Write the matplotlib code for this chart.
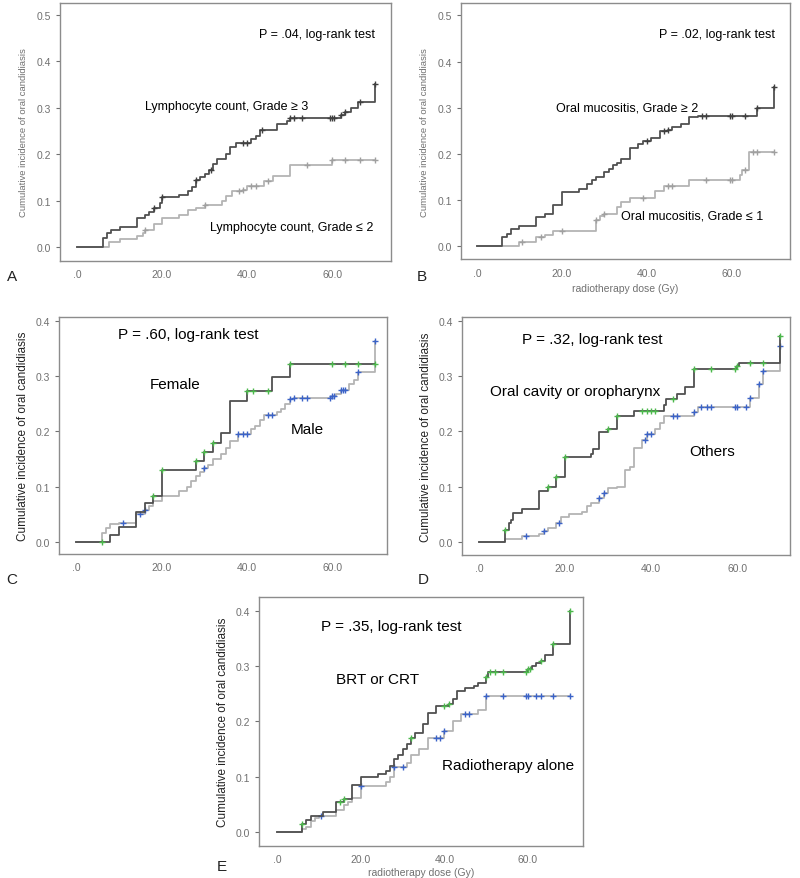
import matplotlib.pyplot as plt
import numpy as np

plt.rcParams['font.family'] = ['Liberation Sans', 'DejaVu Sans']

# ---- panel A: lymphocyte count ----
a_hi_t = [0, 6, 7, 8, 10, 14, 16, 17, 18, 19.5, 20, 24, 26, 27, 28, 29, 30, 31, 32, 33, 35, 36, 37.5, 41, 42, 43, 47, 49.5, 50, 62, 63, 64.5, 66, 70]
a_hi_y = [0, 0.02, 0.03, 0.037, 0.043, 0.063, 0.068, 0.075, 0.085, 0.095, 0.107, 0.112, 0.12, 0.13, 0.145, 0.15, 0.157, 0.165, 0.18, 0.19, 0.2, 0.215, 0.225, 0.233, 0.24, 0.253, 0.265, 0.272, 0.277, 0.285, 0.29, 0.3, 0.312, 0.352]
a_hi_c = [18, 20, 28, 31.5, 39, 40, 43.5, 50, 51, 53, 59.5, 60, 60.5, 62, 63, 66.5, 70]
a_lo_t = [0, 7.5, 10, 14, 15.5, 16, 18, 20, 24, 26, 28, 30, 34, 35, 36.5, 39, 40, 44, 46, 50, 60, 70]
a_lo_y = [0, 0.01, 0.018, 0.024, 0.03, 0.036, 0.05, 0.063, 0.07, 0.08, 0.085, 0.09, 0.1, 0.11, 0.12, 0.123, 0.132, 0.142, 0.154, 0.177, 0.188, 0.188]
a_lo_c = [16, 30, 38, 39, 41, 42, 45, 54, 60, 63, 66.5, 70]

# ---- panel B: oral mucositis ----
b_hi_t = [0, 6, 7, 8, 10, 14, 16, 18, 20, 24, 26, 27, 28, 30, 31, 32, 33, 34, 36, 38, 39, 41, 43, 45, 46, 48, 50, 52, 66, 70]
b_hi_y = [0, 0.02, 0.027, 0.037, 0.043, 0.063, 0.07, 0.09, 0.117, 0.125, 0.135, 0.143, 0.15, 0.16, 0.168, 0.175, 0.18, 0.19, 0.213, 0.222, 0.228, 0.235, 0.25, 0.252, 0.258, 0.265, 0.28, 0.283, 0.3, 0.345]
b_hi_c = [40, 44, 45, 53, 54, 59.5, 60, 63, 66, 70]
b_lo_t = [0, 10, 14, 16, 18, 28, 29, 30, 33, 34, 36, 42, 44, 50, 62, 62.5, 64, 70]
b_lo_y = [0, 0.01, 0.02, 0.024, 0.033, 0.057, 0.065, 0.07, 0.085, 0.095, 0.105, 0.12, 0.13, 0.143, 0.155, 0.165, 0.205, 0.205]
b_lo_c = [10.5, 15, 20, 28, 30, 39, 45, 46, 54, 59.5, 60, 63, 65, 66, 70]

# ---- panel C: sex ----
c_f_t = [0, 8, 10, 14, 16, 18, 20, 28, 30, 32, 34, 36, 40, 46, 50, 70]
c_f_y = [0, 0.013, 0.027, 0.055, 0.07, 0.083, 0.13, 0.147, 0.163, 0.18, 0.198, 0.255, 0.274, 0.298, 0.322, 0.322]
c_f_c = [6, 18, 20, 28, 30, 32, 40, 41.5, 45, 50, 60, 63, 66, 70]
c_m_t = [0, 6, 7, 8, 10, 14, 16, 17, 18, 20, 24, 26, 27, 28, 29, 30, 31, 32, 34, 35, 36, 38, 41, 42, 43, 44, 47, 48, 49, 50, 51, 60, 61, 62, 64, 65, 66, 70]
c_m_y = [0, 0.017, 0.025, 0.032, 0.035, 0.05, 0.058, 0.065, 0.075, 0.083, 0.093, 0.1, 0.11, 0.12, 0.127, 0.133, 0.14, 0.15, 0.16, 0.17, 0.183, 0.195, 0.205, 0.21, 0.22, 0.23, 0.235, 0.24, 0.25, 0.258, 0.26, 0.265, 0.268, 0.275, 0.285, 0.293, 0.308, 0.363]
c_m_c = [11, 15, 16, 30, 38, 39, 40, 45, 46, 50, 51, 53, 54, 59.5, 60, 60.5, 62, 62.5, 63, 66, 70]

# ---- panel D: tumour site ----
d_o_t = [0, 6, 7, 7.5, 8, 10, 14, 16, 18, 20, 26, 26.5, 28, 30, 32, 36, 43, 43.5, 46, 48, 50, 60, 60.5, 70]
d_o_y = [0, 0.022, 0.035, 0.04, 0.052, 0.06, 0.093, 0.1, 0.118, 0.153, 0.16, 0.168, 0.198, 0.205, 0.228, 0.237, 0.248, 0.258, 0.268, 0.28, 0.312, 0.318, 0.323, 0.372]
d_o_c = [6, 16, 18, 20, 30, 32, 38, 39, 40, 41, 45, 50, 54, 59.5, 60, 63, 66, 70]
d_x_t = [0, 6, 10, 14, 15, 16, 18, 19, 21, 24, 25, 26, 28, 29, 30, 32, 34, 35, 36, 38, 39, 41, 42, 43, 50, 51, 63, 65, 66, 70]
d_x_y = [0, 0.005, 0.01, 0.015, 0.02, 0.025, 0.035, 0.045, 0.05, 0.055, 0.065, 0.07, 0.08, 0.088, 0.097, 0.1, 0.13, 0.135, 0.17, 0.185, 0.195, 0.205, 0.215, 0.228, 0.235, 0.245, 0.26, 0.285, 0.31, 0.355]
d_x_c = [11, 15, 18.5, 28, 29, 38.5, 39, 40, 45, 46, 50, 51.5, 53, 54, 59.5, 60, 62, 63, 65, 66, 70]

# ---- panel E: treatment ----
e_b_t = [0, 6, 7, 8, 11, 14, 16, 18, 20, 24, 26, 27, 28, 29, 30, 31, 32, 33, 35, 36, 38, 41, 42, 43, 45, 47, 48, 50, 50.5, 60, 61, 62, 63, 64, 66, 70]
e_b_y = [0, 0.015, 0.022, 0.03, 0.037, 0.055, 0.06, 0.085, 0.1, 0.105, 0.11, 0.12, 0.133, 0.14, 0.15, 0.16, 0.17, 0.18, 0.195, 0.215, 0.228, 0.232, 0.24, 0.255, 0.26, 0.265, 0.27, 0.28, 0.29, 0.295, 0.3, 0.305, 0.31, 0.32, 0.34, 0.4]
e_b_c = [6, 15, 16, 32, 40, 41, 50, 51, 52, 54, 59.5, 60, 60.5, 63, 66, 70]
e_r_t = [0, 6, 7, 8, 9, 10, 14, 16, 17, 18, 20, 26, 27, 28, 31, 32, 34, 36, 40, 42, 44, 48, 50, 70]
e_r_y = [0, 0.005, 0.01, 0.02, 0.025, 0.03, 0.04, 0.05, 0.055, 0.062, 0.083, 0.09, 0.1, 0.117, 0.125, 0.14, 0.15, 0.17, 0.182, 0.2, 0.213, 0.22, 0.246, 0.246]
e_r_c = [10.5, 20, 28, 30, 38, 39, 40, 45, 46, 50, 54, 59.5, 60, 62, 63, 66, 70]

DARK = '#505050'
LIGHT = '#b4b4b4'
GREEN = '#4cb84c'
BLUE = '#3b63c8'
FRAME = '#8c8c8c'
TICK = '#707070'


def curve_value(t, y, c):
    # value of the step curve at each censoring time
    idx = np.searchsorted(t, c, side='right') - 1
    return np.array(y)[idx]


def km(ax, t, y, c, lc, mc):
    ax.step(t, y, where='post', color=lc, lw=1.3)
    ax.plot(c, curve_value(t, y, c), '+', color=mc, ms=4, mew=1.0, ls='none')


def setup(ax, xlim, ylim, yticks, big):
    ax.set_xlim(xlim)
    ax.set_ylim(ylim)
    ax.set_xticks([0, 20, 40, 60])
    ax.set_xticklabels(['.0', '20.0', '40.0', '60.0'])
    ax.set_yticks(yticks)
    ax.set_yticklabels(['%.1f' % v for v in yticks])
    for s in ax.spines.values():
        s.set_color(FRAME)
        s.set_linewidth(1.0)
    ax.tick_params(axis='both', colors=TICK, labelsize=7.5, length=3, width=0.8)
    ax.tick_params(axis='x', length=0, pad=6)
    if big:
        ax.set_ylabel('Cumulative incidence of oral candidiasis', fontsize=8.5, color='#222222', labelpad=5)
    else:
        ax.set_ylabel('Cumulative incidence of oral candidiasis', fontsize=6.8, color=TICK, labelpad=6)


fig = plt.figure(figsize=(8, 8.79), dpi=100)

TS = 9     # text size in A and B
TL = 11    # text size in C, D and E

axA = fig.add_axes([0.075, 0.702, 0.414, 0.2935])
km(axA, a_lo_t, a_lo_y, a_lo_c, LIGHT, '#a0a0a0')
km(axA, a_hi_t, a_hi_y, a_hi_c, DARK, '#404040')
setup(axA, (-4.0, 73.9), (-0.030, 0.526), [0.0, 0.1, 0.2, 0.3, 0.4, 0.5], False)
axA.text(56.5, 0.459, 'P = .04, log-rank test', ha='center', va='center', fontsize=TS)
axA.text(35.3, 0.304, 'Lymphocyte count, Grade \u2265 3', ha='center', va='center', fontsize=TS)
axA.text(50.6, 0.043, 'Lymphocyte count, Grade \u2264 2', ha='center', va='center', fontsize=TS)

axB = fig.add_axes([0.576, 0.704, 0.411, 0.291])
km(axB, b_lo_t, b_lo_y, b_lo_c, LIGHT, '#a0a0a0')
km(axB, b_hi_t, b_hi_y, b_hi_c, DARK, '#404040')
setup(axB, (-3.8, 73.6), (-0.028, 0.526), [0.0, 0.1, 0.2, 0.3, 0.4, 0.5], False)
axB.set_xlabel('radiotherapy dose (Gy)', fontsize=7.5, color=TICK, labelpad=4)
axB.text(56.5, 0.459, 'P = .02, log-rank test', ha='center', va='center', fontsize=TS)
axB.text(35.3, 0.300, 'Oral mucositis, Grade \u2265 2', ha='center', va='center', fontsize=TS)
axB.text(50.6, 0.067, 'Oral mucositis, Grade \u2264 1', ha='center', va='center', fontsize=TS)

axC = fig.add_axes([0.074, 0.3686, 0.41, 0.2696])
km(axC, c_m_t, c_m_y, c_m_c, LIGHT, BLUE)
km(axC, c_f_t, c_f_y, c_f_c, DARK, GREEN)
setup(axC, (-4.0, 72.9), (-0.0217, 0.407), [0.0, 0.1, 0.2, 0.3, 0.4], True)
axC.text(26.3, 0.376, 'P = .60, log-rank test', ha='center', va='center', fontsize=TL)
axC.text(23.2, 0.286, 'Female', ha='center', va='center', fontsize=TL)
axC.text(54.2, 0.204, 'Male', ha='center', va='center', fontsize=TL)

axD = fig.add_axes([0.5775, 0.3675, 0.41, 0.2708])
km(axD, d_x_t, d_x_y, d_x_c, LIGHT, BLUE)
km(axD, d_o_t, d_o_y, d_o_c, DARK, GREEN)
setup(axD, (-3.95, 72.3), (-0.0235, 0.407), [0.0, 0.1, 0.2, 0.3, 0.4], True)
axD.text(26.3, 0.367, 'P = .32, log-rank test', ha='center', va='center', fontsize=TL)
axD.text(22.3, 0.273, 'Oral cavity or oropharynx', ha='center', va='center', fontsize=TL)
axD.text(54.2, 0.165, 'Others', ha='center', va='center', fontsize=TL)

axE = fig.add_axes([0.324, 0.0364, 0.405, 0.2833])
km(axE, e_r_t, e_r_y, e_r_c, LIGHT, BLUE)
km(axE, e_b_t, e_b_y, e_b_c, DARK, GREEN)
setup(axE, (-4.3, 73.2), (-0.025, 0.425), [0.0, 0.1, 0.2, 0.3, 0.4], True)
axE.set_xlabel('radiotherapy dose (Gy)', fontsize=7.5, color=TICK, labelpad=2)
axE.text(27.3, 0.373, 'P = .35, log-rank test', ha='center', va='center', fontsize=TL)
axE.text(23.9, 0.277, 'BRT or CRT', ha='center', va='center', fontsize=TL)
axE.text(55.3, 0.121, 'Radiotherapy alone', ha='center', va='center', fontsize=TL)

# panel letters
for lab, px, py in [('A', 12, 277), ('B', 422, 277), ('C', 12, 580), ('D', 423, 580), ('E', 222, 867)]:
    fig.text(px / 800, 1 - py / 879, lab, ha='center', va='center', fontsize=11, color='#222222')

plt.savefig('out.png', dpi=100)
plt.close()
